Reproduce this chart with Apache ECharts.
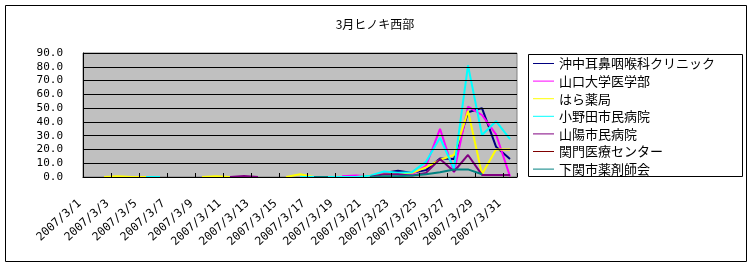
<!DOCTYPE html>
<html>
<head>
<meta charset="utf-8">
<script src="https://cdn.jsdelivr.net/npm/echarts@6/dist/echarts.min.js"></script>
<style>
html,body{margin:0;padding:0;background:#fff;}
#c{width:753px;height:268px;}
</style>
</head>
<body>
<div id="c"></div>
<script>
var categories = ['2007/3/1','2007/3/2','2007/3/3','2007/3/4','2007/3/5','2007/3/6','2007/3/7','2007/3/8','2007/3/9','2007/3/10',
  '2007/3/11','2007/3/12','2007/3/13','2007/3/14','2007/3/15','2007/3/16','2007/3/17','2007/3/18','2007/3/19','2007/3/20',
  '2007/3/21','2007/3/22','2007/3/23','2007/3/24','2007/3/25','2007/3/26','2007/3/27','2007/3/28','2007/3/29','2007/3/30','2007/3/31'];
var seriesNames = ['沖中耳鼻咽喉科クリニック','山口大学医学部','はら薬局','小野田市民病院','山陽市民病院','関門医療センター','下関市薬剤師会'];
var seriesColors = ['#000080','#FF00FF','#FFFF00','#00FFFF','#800080','#800000','#008080'];
var n = null;
var okinaka   = [n,n,n,n,n,n,n,n,n,n, n,n,n,n,n,n,n,n,n,n, 0.5,3,4.5,3,5,13.5,13,47,50,22,13];
var yamaguchi = [n,n,n,n,n,n,n,n,n,n, n,n,n,n,n,n,n,n,0.5,1, 0.5,3,2,2,8,35,3.5,51,45,31,0.5];
var hara      = [n,0,0.5,0,0,n,n,n,0,0.5, 0,n,n,n,0,2,0,n,n,0, 1,2,2.5,3,7,12.5,16,48,2,20,20];
var onoda     = [n,n,n,n,0,0,n,n,n,n, n,n,n,n,n,0,0,0,0,0, 1,4,3,3.5,11,28.5,6,81,30.5,40.5,27.5];
var sanyo     = [n,n,n,n,n,n,n,n,n,n, 0,0.7,0,n,n,n,n,n,n,n, 0,2,2,1,3,13,4,16,1.5,1.5,1.5];
var kanmon    = [n,n,n,n,n,n,n,n,n,n, n,n,n,n,n,n,n,n,n,n, n,n,n,n,n,n,n,50,n,n,n];
var shimonoseki = [n,n,n,n,n,n,n,n,n,n, n,n,n,n,n,n,0,0,n,n, 0,0.5,0.5,1,2,3.5,5.5,5.5,2,n,n];
var seriesValues = [okinaka, yamaguchi, hara, onoda, sanyo, kanmon, shimonoseki];

var chart = echarts.init(document.getElementById('c'), null, {renderer:'canvas'});
var series = seriesNames.map(function(name, k){
  return {
    name: name, type: 'line', data: seriesValues[k],
    showSymbol: false, symbol: 'none', connectNulls: false,
    lineStyle: {color: seriesColors[k], width: 2},
    itemStyle: {color: seriesColors[k]},
    z: 2
  };
});
chart.setOption({
  animation: false,
  backgroundColor: '#ffffff',
  title: {
    text: '3月ヒノキ西部', left: 370, top: 13, textAlign: 'center',
    textStyle: {fontFamily: 'Noto Sans CJK JP', fontSize: 12, fontWeight: 'normal', color: '#000'}
  },
  graphic: [
    {type: 'rect', shape: {x: 5.5, y: 5.5, width: 741, height: 256}, style: {fill: null, stroke: '#000', lineWidth: 1}, z: 0, silent: true},
    {type: 'rect', shape: {x: 528.5, y: 54.5, width: 214, height: 122}, style: {fill: '#fff', stroke: '#000', lineWidth: 1}, z: 0, silent: true}
  ],
  legend: {
    orient: 'vertical', left: 533, top: 57, padding: 0,
    itemWidth: 21, itemHeight: 1, itemGap: 4.6, icon: 'rect',
    data: seriesNames,
    textStyle: {fontFamily: 'Noto Sans CJK JP', fontSize: 13, color: '#000'}
  },
  grid: {
    left: 83, right: 236, top: 53, bottom: 91,
    show: true, backgroundColor: '#C0C0C0', borderColor: '#808080', borderWidth: 1
  },
  xAxis: {
    type: 'category', data: categories, boundaryGap: true, z: 3,
    axisLine: {lineStyle: {color: '#000', width: 1}},
    axisTick: {show: true, inside: true, length: 4, interval: 1, lineStyle: {color: '#000'}},
    axisLabel: {interval: 1, rotate: 42, margin: 15.5, padding: [0, 14, 0, 0],
      fontFamily: 'DejaVu Sans Mono', fontSize: 11.5, color: '#000'},
    splitLine: {show: false}
  },
  yAxis: {
    type: 'value', min: 0, max: 90, interval: 10, z: 3,
    axisLine: {show: true, lineStyle: {color: '#000', width: 1}},
    axisTick: {show: false},
    axisLabel: {margin: 20, fontFamily: 'DejaVu Sans Mono', fontSize: 11, color: '#000',
      formatter: function(v){ return v.toFixed(1); }},
    splitLine: {show: true, lineStyle: {color: '#000', width: 1}}
  },
  series: series
});
</script>
</body>
</html>
